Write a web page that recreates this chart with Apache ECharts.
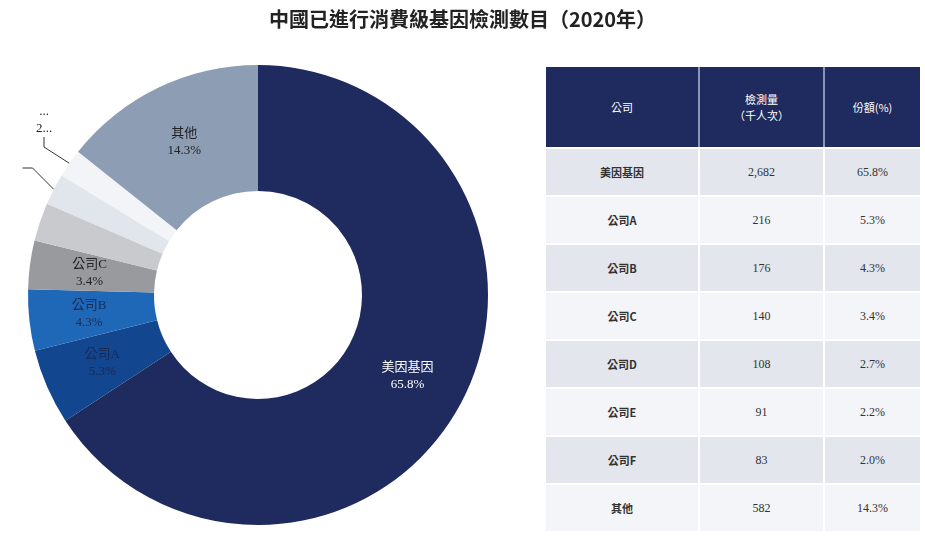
<!DOCTYPE html>
<html>
<head>
<meta charset="utf-8">
<script src="https://cdn.jsdelivr.net/npm/echarts@6/dist/echarts.min.js"></script>
<style>
body { margin: 0; background: #fff; }
#main { width: 925px; height: 536px; position: absolute; left: 0; top: 0; }
#tbl { position: absolute; left: 546px; top: 67px; border-collapse: separate; border-spacing: 0;
       font-family: "Liberation Serif", "Noto Sans CJK TC", serif; font-size: 12px; color: #333; }
#tbl td, #tbl th { text-align: center; padding: 0; }
#tbl th { background: #1f2a5e; color: #fff; height: 80px; font-weight: normal;
          font-family: "Noto Sans CJK TC", sans-serif; font-size: 11px; border-right: 2px solid #8a93b8; }
#tbl th:last-child { border-right: none; }
#tbl td { height: 46px; border-top: 2px solid #fff; border-right: 2px solid #fff; }
#tbl td:last-child { border-right: none; }
#tbl td.n { font-family: "Noto Sans CJK TC", sans-serif; font-weight: bold; font-size: 11px; }
</style>
</head>
<body>
<div id="main"></div>
<table id="tbl"></table>
<script>
var names = ['美因基因', '公司A', '公司B', '公司C', '公司D', '公司E', '公司F', '其他'];
var tests = ['2,682', '216', '176', '140', '108', '91', '83', '582'];
var shares = [65.8, 5.3, 4.3, 3.4, 2.7, 2.2, 2.0, 14.3];
var colors = ['#1f2a5e', '#12468f', '#1f68b8', '#999a9e', '#c9cacd', '#e1e5ec', '#f2f4f8', '#8d9db3'];
var labelColors = ['#fff', '#1a2a55', '#1a2a55', '#222', '#222', '#222', '#222', '#222'];
// placement for the small slices labelled outside the ring
var outerLabels = { 4: [38, 228], 5: [22, 168], 6: [44, 120] };

var tbl = document.getElementById('tbl');
var head = '<tr><th style="width:152px">公司</th><th style="width:123px">檢測量<br>（千人次）</th><th style="width:95px">份額(%)</th></tr>';
var rows = '';
for (var i = 0; i < names.length; i++) {
    var bg = i % 2 === 0 ? '#e3e6ec' : '#f3f5f8';
    rows += '<tr style="background:' + bg + '"><td class="n">' + names[i] + '</td><td>' + tests[i] +
        '</td><td>' + shares[i].toFixed(1) + '%</td></tr>';
}
tbl.innerHTML = head + rows;

var chart = echarts.init(document.getElementById('main'));

var data = names.map(function (n, i) {
    var d = {
        name: n, value: shares[i],
        itemStyle: { color: colors[i] },
        label: { color: labelColors[i] }
    };
    if (outerLabels[i]) {
        d.label.position = 'outside';
        d.labelLine = { show: i !== 4, length: 30, length2: 10, lineStyle: { color: '#333', width: 1 } };
    }
    return d;
});

var option = {
    title: {
        text: '中國已進行消費級基因檢測數目（2020年）',
        left: 'center',
        top: 4,
        textStyle: { fontFamily: 'Noto Sans CJK TC', fontSize: 20, fontWeight: 'bold', color: '#222' }
    },
    series: [
        {
            type: 'pie',
            center: [258, 295],
            radius: [104, 230],
            startAngle: 90,
            clockwise: true,
            silent: true,
            label: {
                position: 'inside',
                formatter: function (p) { return p.name + '\n' + p.value.toFixed(1) + '%'; },
                fontFamily: 'Liberation Serif, Noto Sans CJK TC',
                fontSize: 13,
                lineHeight: 17
            },
            labelLayout: function (p) {
                var pos = outerLabels[p.dataIndex];
                if (!pos) return {};
                return { x: pos[0], y: pos[1], align: 'center', verticalAlign: 'middle' };
            },
            data: data
        }
    ]
};

chart.setOption(option);
</script>
</body>
</html>
